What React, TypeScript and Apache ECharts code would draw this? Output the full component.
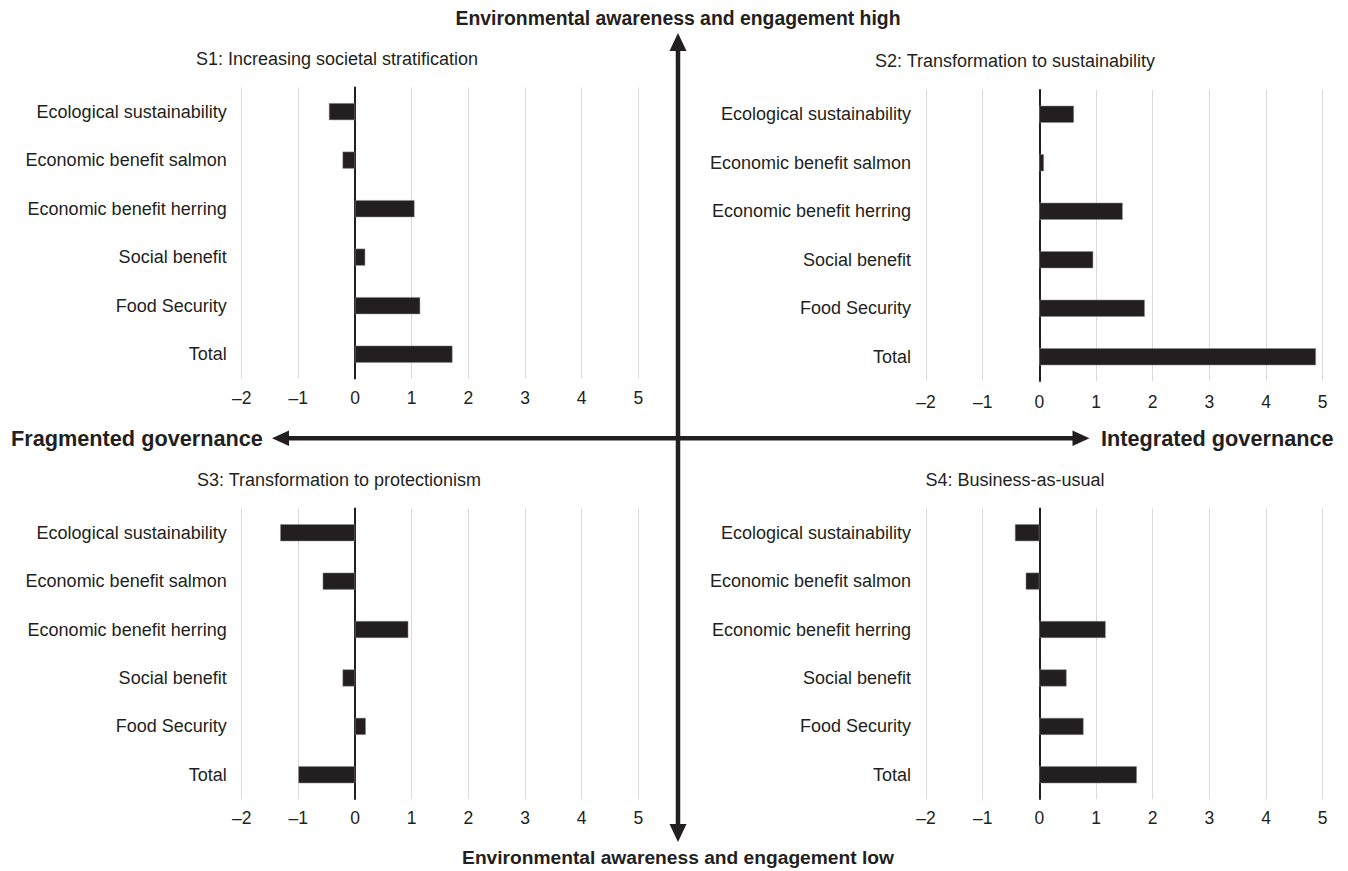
import React, { useEffect, useRef } from "react";
import * as echarts from "echarts";

const categories = [
  "Ecological sustainability",
  "Economic benefit salmon",
  "Economic benefit herring",
  "Social benefit",
  "Food Security",
  "Total",
];

const s1Values = [-0.46, -0.22, 1.05, 0.18, 1.15, 1.72];
const s2Values = [0.61, 0.08, 1.47, 0.95, 1.86, 4.88];
const s3Values = [-1.32, -0.57, 0.94, -0.22, 0.19, -1.0];
const s4Values = [-0.43, -0.24, 1.17, 0.48, 0.78, 1.72];

const panelTitles = [
  "S1: Increasing societal stratification",
  "S2: Transformation to sustainability",
  "S3: Transformation to protectionism",
  "S4: Business-as-usual",
];

const axisMin = -2;
const axisMax = 5;
const axisInterval = 1;

const FONT = "'Liberation Sans', Arial, Helvetica, sans-serif";
const INK = "#231f20";

export default function App() {
  const ref = useRef<HTMLDivElement>(null);

  useEffect(() => {
    if (!ref.current) return;
    const chart = echarts.init(ref.current, undefined, { renderer: "svg" });

    const grids = [
      { left: 241.7, top: 87.4, width: 396.6, height: 291 },
      { left: 926, top: 90, width: 396.7, height: 291 },
      { left: 241.7, top: 508.5, width: 396.6, height: 290.5 },
      { left: 926, top: 508.5, width: 396.7, height: 290.5 },
    ];
    const allValues = [s1Values, s2Values, s3Values, s4Values];
    const titlePos = [
      { x: 337, y: 55 },
      { x: 1015, y: 57 },
      { x: 339, y: 476 },
      { x: 1015, y: 476 },
    ];
    const labelMargins = [10.5, 11.5, 9.5, 9.5];

    const option: any = {
      animation: false,
      backgroundColor: "#ffffff",
      textStyle: { fontFamily: FONT },
      title: panelTitles.map((t, i) => ({
        text: t,
        left: titlePos[i].x - 5,
        top: titlePos[i].y - 10,
        textAlign: "center",
        textStyle: { fontFamily: FONT, fontSize: 18, fontWeight: "normal", color: INK },
      })),
      grid: grids.map((g) => ({ ...g, containLabel: false })),
      xAxis: grids.map((_, i) => ({
        type: "value",
        gridIndex: i,
        min: axisMin,
        max: axisMax,
        interval: axisInterval,
        axisLine: { show: false },
        axisTick: { show: false },
        splitLine: { show: true, lineStyle: { color: "#d9d9d9", width: 1 } },
        axisLabel: {
          fontFamily: FONT,
          fontSize: 17.5,
          color: INK,
          margin: labelMargins[i],
          formatter: (v: number) => (v < 0 ? "\u2013" + Math.abs(v) : String(v)),
        },
      })),
      yAxis: grids.map((_, i) => ({
        type: "category",
        gridIndex: i,
        data: categories,
        inverse: true,
        axisLine: { show: true, onZero: true, lineStyle: { color: INK, width: 2 } },
        axisTick: { show: false },
        axisLabel: { fontFamily: FONT, fontSize: 18, color: INK, margin: 15 },
      })),
      series: allValues.map((vals, i) => ({
        type: "bar",
        xAxisIndex: i,
        yAxisIndex: i,
        data: vals,
        barWidth: 17,
        itemStyle: { color: INK, borderColor: "#8a8a8a", borderWidth: 0.5 },
        z: 3,
      })),
      graphic: [
        { type: "line", shape: { x1: 678, y1: 48, x2: 678, y2: 827 }, style: { stroke: INK, lineWidth: 4.5 }, z: 100 },
        { type: "polygon", shape: { points: [[678, 33], [686.5, 51], [669.5, 51]] }, style: { fill: INK }, z: 100 },
        { type: "polygon", shape: { points: [[678, 842], [686.5, 824], [669.5, 824]] }, style: { fill: INK }, z: 100 },
        { type: "line", shape: { x1: 286, y1: 438.3, x2: 1075, y2: 438.3 }, style: { stroke: INK, lineWidth: 4.5 }, z: 100 },
        { type: "polygon", shape: { points: [[272, 438.3], [289, 430.5], [289, 446]] }, style: { fill: INK }, z: 100 },
        { type: "polygon", shape: { points: [[1089.5, 438.3], [1072.5, 430.5], [1072.5, 446]] }, style: { fill: INK }, z: 100 },
        {
          type: "text",
          x: 678,
          y: 18,
          style: {
            text: "Environmental awareness and engagement high",
            fontFamily: FONT, fontSize: 19.4, fontWeight: "bold", fill: INK,
            textAlign: "center", textVerticalAlign: "middle",
          },
        },
        {
          type: "text",
          x: 678,
          y: 857,
          style: {
            text: "Environmental awareness and engagement low",
            fontFamily: FONT, fontSize: 19.2, fontWeight: "bold", fill: INK,
            textAlign: "center", textVerticalAlign: "middle",
          },
        },
        {
          type: "text",
          x: 11,
          y: 438.5,
          style: {
            text: "Fragmented governance",
            fontFamily: FONT, fontSize: 21.7, fontWeight: "bold", fill: INK,
            textAlign: "left", textVerticalAlign: "middle",
          },
        },
        {
          type: "text",
          x: 1101,
          y: 438.5,
          style: {
            text: "Integrated governance",
            fontFamily: FONT, fontSize: 21.7, fontWeight: "bold", fill: INK,
            textAlign: "left", textVerticalAlign: "middle",
          },
        },
      ],
    };

    chart.setOption(option);
    return () => chart.dispose();
  }, []);

  return (
    <div
      ref={ref}
      style={{ position: "absolute", left: 0, top: 0, width: 1348, height: 871, background: "#fff" }}
    />
  );
}
